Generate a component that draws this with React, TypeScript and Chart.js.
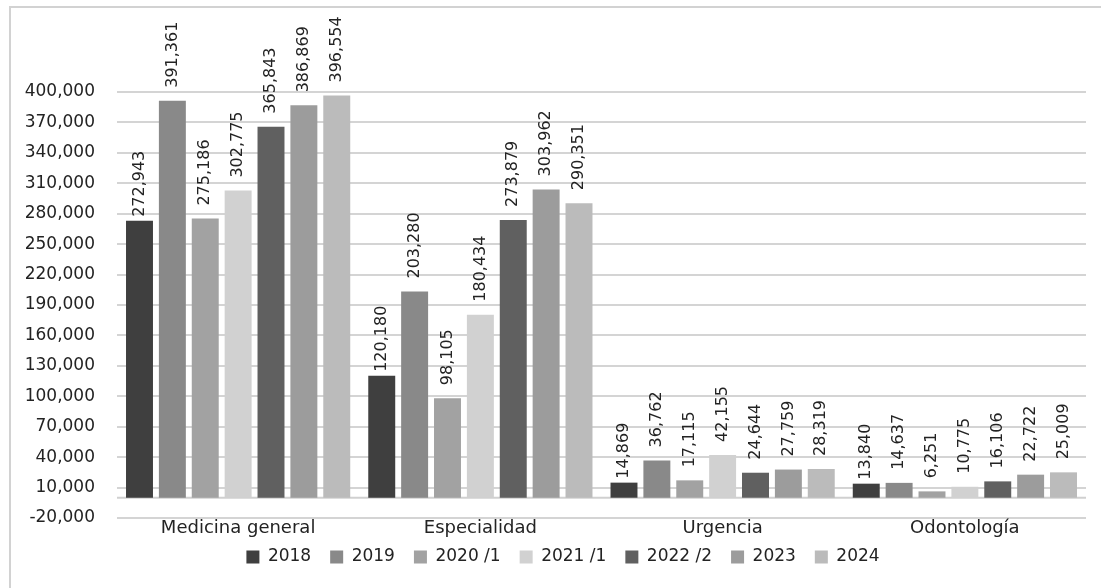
import { useEffect, useRef } from "react";
import { Chart, registerables } from "chart.js";

Chart.register(...registerables);

// Consultas por tipo de servicio y año
const categories = ["Medicina general", "Especialidad", "Urgencia", "Odontología"];
const seriesLabels = ["2018", "2019", "2020 /1", "2021 /1", "2022 /2", "2023", "2024"];

const values2018 = [272943, 120180, 14869, 13840];
const values2019 = [391361, 203280, 36762, 14637];
const values2020 = [275186, 98105, 17115, 6251];
const values2021 = [302775, 180434, 42155, 10775];
const values2022 = [365843, 273879, 24644, 16106];
const values2023 = [386869, 303962, 27759, 22722];
const values2024 = [396554, 290351, 28319, 25009];

const yMin = -20000;
const yMax = 400000;
const yStep = 30000;

const seriesValues = [values2018, values2019, values2020, values2021, values2022, values2023, values2024];
const seriesColors = ["#3f3f3f", "#898989", "#a2a2a2", "#d1d1d1", "#606060", "#9c9c9c", "#bbbbbb"];
const labelGaps = [4, 13, 13, 13, 13, 13, 13];

const FONT = '"DejaVu Sans", sans-serif';
const TEXT = "#232323";
const fmt = (v: number) => v.toLocaleString("en-US");

const framePlugin = {
  id: "frame",
  beforeDraw(chart: any) {
    const { ctx, width, height } = chart;
    ctx.save();
    ctx.fillStyle = "#ffffff";
    ctx.fillRect(0, 0, width, height);
    ctx.strokeStyle = "#d2d2d2";
    ctx.lineWidth = 2;
    ctx.beginPath();
    ctx.moveTo(10, height);
    ctx.lineTo(10, 7);
    ctx.lineTo(width, 7);
    ctx.stroke();
    ctx.restore();
  },
};

// Shift the legend box: centred a bit left of the plot, pulled up under the category labels
const legendPlacePlugin = {
  id: "legendPlace",
  afterLayout(chart: any) {
    const lg = chart.legend;
    if (!lg) return;
    lg.left = 40;
    const h = lg.bottom - lg.top;
    lg.top = 529.5;
    lg.bottom = lg.top + h;
  },
};

const zeroLinePlugin = {
  id: "zeroLine",
  beforeDatasetsDraw(chart: any) {
    const { ctx, chartArea, scales } = chart;
    const y = scales.y.getPixelForValue(0);
    ctx.save();
    ctx.strokeStyle = "#d0d0d0";
    ctx.lineWidth = 2;
    ctx.beginPath();
    ctx.moveTo(chartArea.left, y);
    ctx.lineTo(chartArea.right, y);
    ctx.stroke();
    ctx.restore();
  },
};

const valueLabelPlugin = {
  id: "valueLabels",
  afterDatasetsDraw(chart: any) {
    const { ctx } = chart;
    ctx.save();
    ctx.font = `16px ${FONT}`;
    ctx.fillStyle = TEXT;
    ctx.textAlign = "left";
    ctx.textBaseline = "middle";
    chart.data.datasets.forEach((ds: any, di: number) => {
      const meta = chart.getDatasetMeta(di);
      meta.data.forEach((bar: any, i: number) => {
        const v = ds.data[i] as number;
        ctx.save();
        ctx.translate(bar.x, bar.y - labelGaps[di]);
        ctx.rotate(-Math.PI / 2);
        ctx.fillText(fmt(v), 0, 0);
        ctx.restore();
      });
    });
    ctx.restore();
  },
};

export default function App() {
  const canvasRef = useRef<HTMLCanvasElement | null>(null);

  useEffect(() => {
    const canvas = canvasRef.current;
    if (!canvas) return;
    const chart = new Chart(canvas, {
      type: "bar",
      data: {
        labels: categories,
        datasets: seriesLabels.map((label, i) => ({
          label,
          data: seriesValues[i],
          backgroundColor: seriesColors[i],
          borderWidth: 0,
          categoryPercentage: 0.95,
          barPercentage: 0.82,
        })),
      },
      options: {
        responsive: false,
        animation: false,
        devicePixelRatio: 1,
        layout: { padding: { top: 92, right: 15, bottom: 2, left: 0 } },
        plugins: {
          tooltip: { enabled: false },
          legend: {
            position: "bottom",
            labels: {
              boxWidth: 13,
              boxHeight: 13,
              padding: 19,
              color: TEXT,
              font: { family: FONT, size: 17 },
            },
          },
        },
        scales: {
          x: {
            grid: { display: false, drawTicks: false },
            border: { display: false },
            ticks: { color: TEXT, font: { family: FONT, size: 18 }, padding: 0 },
            afterFit(scale: any) {
              scale.height = 22;
            },
          },
          y: {
            min: yMin,
            max: yMax,
            ticks: {
              stepSize: yStep,
              color: TEXT,
              font: { family: FONT, size: 17 },
              padding: 22,
              callback: (value: any) => fmt(Number(value)),
            },
            grid: { color: "#d4d4d4", lineWidth: 2, drawTicks: false },
            border: { display: false },
            afterFit(scale: any) {
              scale.width = 117;
            },
          },
        },
      },
      plugins: [framePlugin, legendPlacePlugin, zeroLinePlugin, valueLabelPlugin],
    });
    return () => chart.destroy();
  }, []);

  return (
    <div style={{ position: "fixed", left: 0, top: 0, width: 1101, height: 588, background: "#fff" }}>
      <canvas ref={canvasRef} width={1101} height={588} style={{ display: "block" }} />
    </div>
  );
}
